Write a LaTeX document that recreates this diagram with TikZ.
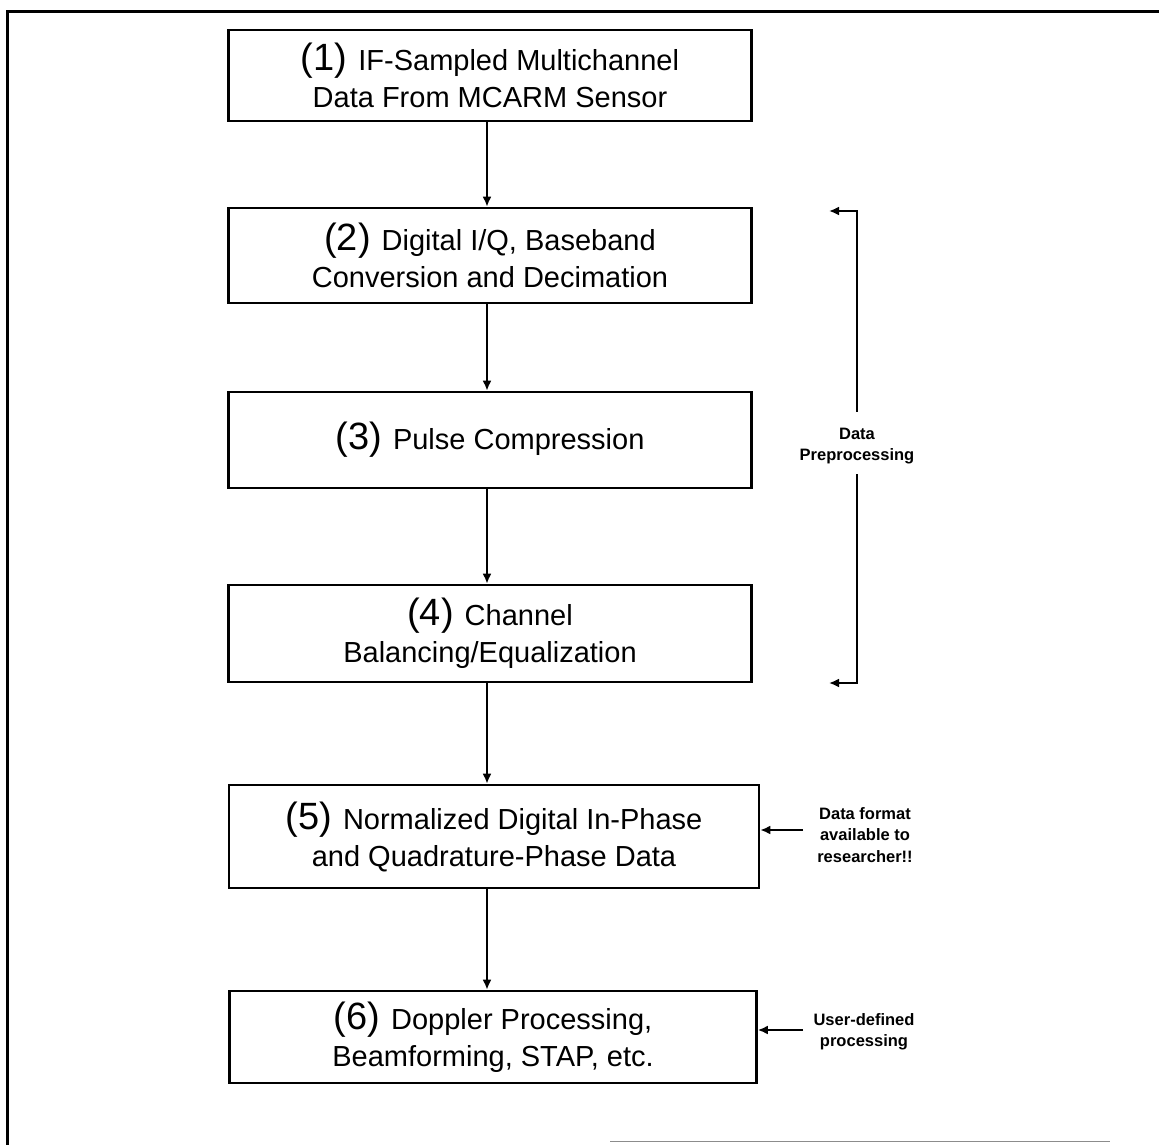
\documentclass[tikz,border=0pt]{standalone}
\usepackage{fontspec}
\setmainfont{Liberation Sans}
\usetikzlibrary{arrows.meta,positioning}

\newcommand{\stagenum}[1]{{\fontsize{38}{38}\selectfont(#1)}\hspace{11pt}}

\begin{document}
\begin{tikzpicture}[x=1pt,y=-1pt,
  every node/.style={inner sep=0pt},
  stagebox/.style={draw,line width=2.6pt,minimum width=523pt,align=center,
    font=\fontsize{29}{37}\selectfont},
  flow/.style={line width=2pt,-{Latex[length=10pt,width=9pt]}},
  note/.style={align=center,font=\bfseries\fontsize{16.5}{21.5}\selectfont}]
  \useasboundingbox (0,0) rectangle (1159,1145);
  % frame
  \draw[line width=3pt] (7,1145) -- (7,12) -- (1159,12);
  \draw[line width=1pt,black!45] (610,1141) -- (1110,1141);
  % processing chain
  \node[stagebox,minimum height=91pt] (s1) at (490,75.5)
    {\stagenum{1}IF-Sampled Multichannel\\Data From MCARM Sensor};
  \node[stagebox,minimum height=95pt] (s2) at (490,255.5)
    {\stagenum{2}Digital I/Q, Baseband\\Conversion and Decimation};
  \node[stagebox,minimum height=96pt] (s3) at (490,440)
    {\stagenum{3}Pulse Compression};
  \node[stagebox,minimum height=97pt] (s4) at (490,633.5)
    {\stagenum{4}Channel\\Balancing/Equalization};
  \node[stagebox,minimum height=103pt,minimum width=530pt] (s5) at (494,836.5)
    {\stagenum{5}Normalized Digital In-Phase\\and Quadrature-Phase Data};
  \node[stagebox,minimum height=92pt,minimum width=527pt] (s6) at (493,1037)
    {\stagenum{6}Doppler Processing,\\Beamforming, STAP, etc.};
  \draw[flow] ([xshift=-3pt]s1.south) -- ([xshift=-3pt]s1.south |- s2.north);
  \draw[flow] ([xshift=-3pt]s2.south) -- ([xshift=-3pt]s2.south |- s3.north);
  \draw[flow] ([xshift=-3pt]s3.south) -- ([xshift=-3pt]s3.south |- s4.north);
  \draw[flow] ([xshift=-3pt]s4.south) -- ([xshift=-3pt]s4.south |- s5.north);
  \draw[flow] ([xshift=-3pt]s4.south |- s5.south) -- ([xshift=-3pt]s4.south |- s6.north);
  % preprocessing bracket
  \node[note] (prep) at (857,446) {Data\\Preprocessing};
  \coordinate (btop) at (857,211);
  \coordinate (bbot) at (857,683);
  \draw[flow] ([yshift=16pt]prep.north) -- (btop) -- ++(-28,0);
  \draw[flow] ([yshift=-10pt]prep.south) -- (bbot) -- ++(-28,0);
  % side notes
  \node[note] (fmt) at (865,835) {Data format\\available to\\researcher!!};
  \node[note] (user) at (864,1032) {User-defined\\processing};
  \draw[flow] (803,830) -- (s5.east |- 0,830);
  \draw[flow] (803,1030) -- (s6.east |- 0,1030);
\end{tikzpicture}
\end{document}
